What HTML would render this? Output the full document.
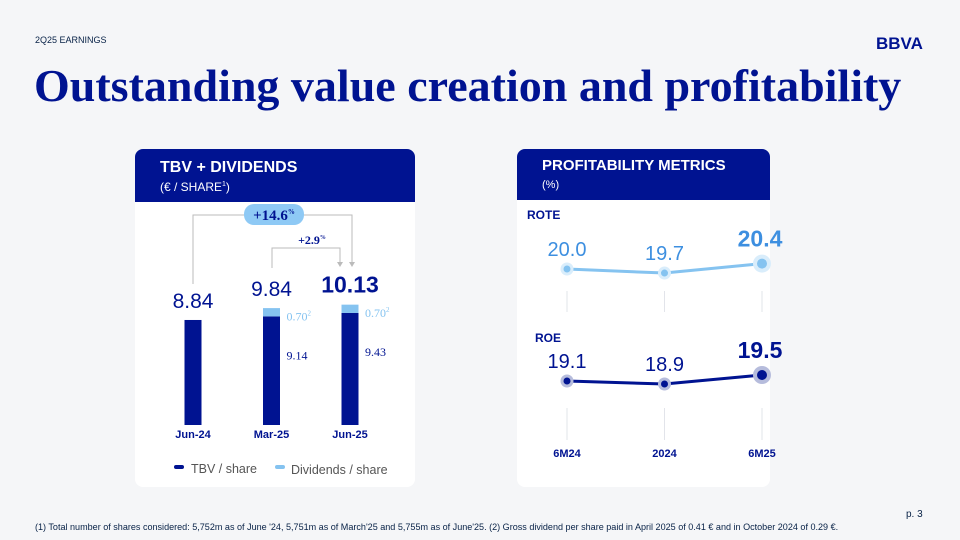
<!DOCTYPE html>
<html><head><meta charset="utf-8"><style>
body{margin:0;width:960px;height:540px;background:#f5f6f8;font-family:"Liberation Sans",sans-serif;overflow:hidden;position:relative}
.abs{position:absolute}
</style></head><body>
<div class="abs" style="left:35px;top:35px;font-size:9px;color:#072146">2Q25 EARNINGS</div>
<div class="abs" style="left:876px;top:34px;font-size:17px;font-weight:bold;color:#001391;letter-spacing:0px">BBVA</div>
<div class="abs" style="left:34px;top:59px;font-family:'Liberation Serif',serif;font-weight:bold;font-size:46px;color:#001391;letter-spacing:0px;white-space:nowrap">Outstanding value creation and profitability</div>

<svg class="abs" style="left:0;top:0" width="960" height="540">
<g>
<rect x="135" y="149" width="280" height="338" rx="8" fill="#fff"/>
<path d="M135 202 V157 a8 8 0 0 1 8 -8 H407 a8 8 0 0 1 8 8 V202Z" fill="#001391"/>
<text x="160" y="172" font-size="16" font-weight="bold" fill="#fff">TBV + DIVIDENDS</text>
<text x="160" y="191" font-size="12" fill="#fff">(€ / SHARE<tspan font-size="7" dy="-5">1</tspan><tspan dy="5">)</tspan></text>
</g>
<g stroke="#bbb" fill="none" stroke-width="1">
<path d="M193 284 V215 H245"/><path d="M300 215 H352 V262"/>
<path d="M272 268 V248 H340 V262"/>
</g>
<rect x="244" y="204" width="60" height="21" rx="10" fill="#8ec9f5"/>
<text x="274" y="220" text-anchor="middle" font-family="Liberation Serif" font-weight="bold" font-size="15" fill="#001391">+14.6<tspan font-size="7" dy="-6">%</tspan></text>
<text x="312" y="244" text-anchor="middle" font-family="Liberation Serif" font-weight="bold" font-size="12" fill="#001391">+2.9<tspan font-size="6" dy="-5">%</tspan></text>
<path d="M337 262 l3 5 l3 -5Z M349 262 l3 5 l3 -5Z" fill="#bbb"/>
<g id="bars"></g>
<g>
<rect x="174" y="465" width="10" height="4" rx="2" fill="#001391"/>
<text x="191" y="473" font-size="12.5" fill="#555">TBV / share</text>
<rect x="275" y="465" width="10" height="4" rx="2" fill="#85c3f0"/>
<text x="291" y="474" font-size="12.5" fill="#555">Dividends / share</text>
</g>

<g>
<rect x="517" y="149" width="253" height="338" rx="8" fill="#fff"/>
<path d="M517 200 V157 a8 8 0 0 1 8 -8 H762 a8 8 0 0 1 8 8 V200Z" fill="#001391"/>
<text x="542" y="170" font-size="15" font-weight="bold" fill="#fff">PROFITABILITY METRICS</text>
<text x="542" y="188" font-size="11" fill="#fff">(%)</text>
<text x="527" y="219" font-size="12" font-weight="bold" fill="#001391">ROTE</text>
<text x="535" y="342" font-size="12" font-weight="bold" fill="#001391">ROE</text>
</g>
<g id="lines"></g>
</svg>

<div class="abs" style="left:906px;top:509px;font-size:10px;color:#072146">p. 3</div>
<div class="abs" style="left:35px;top:522px;font-size:9.05px;color:#072146;white-space:nowrap">(1) Total number of shares considered: 5,752m as of June '24, 5,751m as of March'25 and 5,755m as of June'25. (2) Gross dividend per share paid in April 2025 of 0.41 € and in October 2024 of 0.29 €.</div>

<script>
const barCats=["Jun-24","Mar-25","Jun-25"];
const tbvVals=[8.84,9.14,9.43];
const divVals=[0,0.70,0.70];
const metricCats=["6M24","2024","6M25"];
const roteVals=[20.0,19.7,20.4];
const roeVals=[19.1,18.9,19.5];
const NS="http://www.w3.org/2000/svg";
function mk(p,t,a,txt){const e=document.createElementNS(NS,t);for(const k in a)e.setAttribute(k,a[k]);if(txt!==undefined)e.textContent=txt;p.appendChild(e);return e;}
const bg=document.getElementById('bars');
const base=425,k=11.88,bx=i=>193+i*78.5,bw=17;
const yB=v=>base-v*k;
barCats.forEach((c,i)=>{
 const x=bx(i);
 const r=mk(bg,'rect',{x:x-bw/2,y:yB(tbvVals[i]),width:bw,height:base-yB(tbvVals[i]),fill:'#001391'});
 
 
 const tot=tbvVals[i]+divVals[i];
 if(divVals[i]>0){
  const d=mk(bg,'rect',{x:x-bw/2,y:yB(tot),width:bw,height:yB(tbvVals[i])-yB(tot),fill:'#85c3f0'});
  
  
  const dl=mk(bg,'text',{x:x+15,y:(yB(tot)+yB(tbvVals[i]))/2+8,'font-family':'Liberation Serif','font-size':12,fill:'#85c3f0'},(divVals[i]).toFixed(2));
  mk(dl,'tspan',{'font-size':7,dy:-5},'2');
  mk(bg,'text',{x:x+15,y:yB(tbvVals[i])+43,'font-family':'Liberation Serif','font-size':12,fill:'#001391'},tbvVals[i].toFixed(2));
 }
 const last=i===barCats.length-1;
 mk(bg,'text',{x:x,y:yB(tot)-12,'text-anchor':'middle','font-size':last?23:21,'font-weight':last?'bold':'normal',fill:'#001391'},tot.toFixed(2));
 mk(bg,'text',{x:x,y:438,'text-anchor':'middle','font-size':11,'font-weight':'bold',fill:'#001391'},c);
});
const lg=document.getElementById('lines');
const lx=i=>567+i*97.5;
const yR=v=>269-(v-20.0)*13.5;
const yE=v=>381-(v-19.1)*15;
metricCats.forEach((c,i)=>{
 mk(lg,'line',{x1:lx(i),x2:lx(i),y1:291,y2:312,stroke:'#e2e4ea','stroke-width':1});
 mk(lg,'line',{x1:lx(i),x2:lx(i),y1:408,y2:440,stroke:'#e2e4ea','stroke-width':1});
 mk(lg,'text',{x:lx(i),y:457,'text-anchor':'middle','font-size':11,'font-weight':'bold',fill:'#001391'},c);
});
function series(vals,yf,col,halo,name,lblOff,lblCol){
 const pts=vals.map((v,i)=>lx(i)+','+yf(v)).join(' ');
 const pl=mk(lg,'polyline',{points:pts,fill:'none',stroke:col,'stroke-width':3});
 
 
 vals.forEach((v,i)=>{
  const last=i===vals.length-1;
  mk(lg,'circle',{cx:lx(i),cy:yf(v),r:last?9:6.5,fill:halo});
  const p=mk(lg,'circle',{cx:lx(i),cy:yf(v),r:last?5:3.5,fill:col});
  
  
  mk(lg,'text',{x:last?lx(i)-2:lx(i),y:yf(v)-lblOff-(last?4:0),'text-anchor':'middle','font-size':last?23:20,'font-weight':last?'bold':'normal',fill:lblCol},v.toFixed(1));
 });
}
series(roteVals,yR,'#85c3f0','#d9edfb','rote',13,'#3d8fe0');
series(roeVals,yE,'#001391','#b6bcdc','roe',13,'#001391');
</script>
</body></html>
